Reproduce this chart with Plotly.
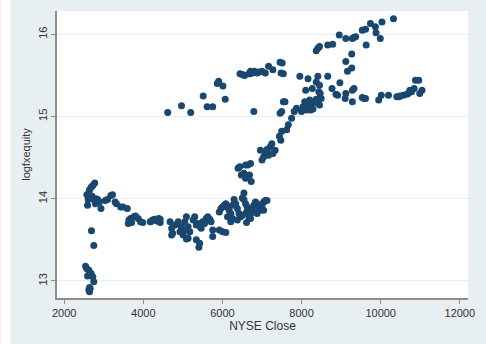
import plotly.graph_objects as go

# NYSE close vs. log of foreign equity holdings
nyse_close = [
    # early low readings
    2540, 2573, 2623, 2590, 2681, 2723, 2748, 2640, 2623, 2640, 2656,
    2689, 2748,
    # first jump cluster
    2573, 2623, 2640, 2681, 2723, 2772, 2606, 2656, 2706, 2590, 2748,
    2806, 2822, 2889, 2930, 2789, 2847,
    3038, 3096, 3179, 3221, 3287, 3321, 3429, 3487, 3595, 3636, 3678,
    3620, 3703, 3761, 3802, 3869, 3927, 3985, 4176, 4234, 4284, 4342,
    4425, 4425,
    # flat trough
    4184, 4384, 4676, 4716, 4716, 4800, 4883, 4925, 4965, 5007, 5049,
    5089, 5132, 5174, 5132, 5299, 5339, 5381, 5339, 5423, 5463, 5548,
    5588, 5630, 5712, 5754, 5754, 5921, 6004, 6086, 5405, 5090, 4740,
    4960, 5040, 5260, 5440, 5500, 5680,
    # dense recovery cluster
    5920, 5962, 6003, 6045, 6087, 6128, 6170, 6211, 6253, 6294, 6336,
    6377, 6419, 6460, 6502, 6543, 6585, 6627, 6610, 6668, 6710, 6751,
    6793, 6834, 6876, 6917, 6959, 7000, 7042, 7083, 7125, 6543, 6610,
    6502, 6377, 6253, 6128, 6211, 6710, 6793, 6876, 7042,
    # climb
    6394, 6435, 6477, 6543, 6585, 6643, 6685, 6726, 6585, 6710,
    7000, 7042, 7083, 7125, 7166, 7208, 7249, 7274, 7332, 6959,
    7440, 7474, 7498, 7457, 7498, 7540, 7581, 7623, 7665, 7748, 7814,
    7872,
    # plateau around 8000-8500
    7997, 8038, 8080, 8121, 8163, 8205, 8246, 8288, 8329, 8371, 8412,
    8454, 8105, 8163, 8271, 8371, 8412, 8454, 8470, 8496, 8437, 7956,
    8661, 8090, 8190, 8230,
    # upper branch
    8371, 8412, 8454, 8661, 8786, 8952, 9118, 9284, 9367, 9534, 9617,
    9633, 9741, 9866, 9882, 9990, 10032, 10323, 9320,
    # middle branch
    9118, 9268, 9160, 9268, 8969, 9326, 9284,
    # lower right branch
    8769, 8869, 8911, 9118, 9102, 9284, 9534, 9617, 9949, 10015, 10198,
    10406, 10489, 10572, 10655, 10697, 10738, 10780, 10846, 10879, 10962,
    10987, 11045, 9580, 10460,
    # upper middle band
    4616, 4965, 5198, 5513, 5613, 5754, 5904, 6012, 6070, 6444, 6502,
    6668, 6710, 6751, 6809, 6876, 7000, 7083, 7166, 7274, 7457, 7482,
    7540, 6793, 6693, 6560, 6930, 7510, 5870,
]

logfxequity = [
    13.18, 13.15, 13.13, 13.06, 13.09, 13.05, 12.99, 12.92, 12.89, 12.87, 12.91,
    13.61, 13.43,
    14.05, 14.07, 14.11, 14.14, 14.16, 14.19, 13.99, 14.02, 14.03, 13.92, 13.99,
    14.00, 13.95, 13.96, 13.88, 13.94, 13.99,
    13.98, 13.99, 14.04, 14.05, 13.96, 13.94, 13.90, 13.90, 13.88, 13.74, 13.76,
    13.70, 13.71, 13.78, 13.79, 13.76, 13.72, 13.71, 13.72, 13.74, 13.75, 13.73,
    13.75, 13.71,
    13.72, 13.76, 13.72, 13.64, 13.56, 13.68, 13.72, 13.60, 13.64, 13.56, 13.72,
    13.78, 13.66, 13.60, 13.52, 13.78, 13.68, 13.70, 13.50, 13.46, 13.64, 13.70,
    13.76, 13.78, 13.72, 13.62, 13.54, 13.62, 13.60, 13.59, 13.41, 13.51, 13.58,
    13.66, 13.62, 13.74, 13.66, 13.72, 13.75,
    13.84, 13.88, 13.90, 13.92, 13.94, 13.90, 13.86, 13.82, 13.92, 13.99, 13.94,
    13.88, 13.82, 13.78, 13.80, 13.99, 13.94, 13.90, 13.84, 13.78, 13.82, 13.88,
    13.92, 13.96, 13.94, 13.90, 13.86, 13.92, 13.96, 13.98, 13.98, 14.07, 13.71,
    14.01, 13.74, 13.76, 13.78, 13.72, 13.76, 13.84, 13.82, 13.86,
    14.37, 14.39, 14.29, 14.31, 14.41, 14.41, 14.29, 14.21, 14.25, 14.43,
    14.47, 14.51, 14.57, 14.60, 14.53, 14.63, 14.67, 14.55, 14.59, 14.59,
    14.76, 14.71, 14.82, 15.04, 15.06, 15.18, 15.18, 14.84, 14.90, 14.98, 15.06,
    15.10,
    15.06, 15.12, 15.18, 15.08, 15.14, 15.20, 15.12, 15.09, 15.18, 15.21, 15.16,
    15.14, 15.32, 15.46, 15.34, 15.42, 15.49, 15.38, 15.28, 15.22, 15.30, 15.49,
    15.49, 15.10, 15.16, 15.08,
    15.80, 15.83, 15.85, 15.87, 15.88, 15.99, 15.95, 15.95, 15.97, 16.05, 16.06,
    15.87, 16.13, 16.09, 16.02, 15.95, 16.15, 16.19, 15.96,
    15.67, 15.76, 15.55, 15.59, 15.41, 15.34, 15.32,
    15.34, 15.27, 15.26, 15.28, 15.22, 15.18, 15.23, 15.22, 15.20, 15.26, 15.26,
    15.24, 15.25, 15.26, 15.27, 15.28, 15.32, 15.30, 15.34, 15.44, 15.44,
    15.28, 15.32, 15.22, 15.24,
    15.05, 15.13, 15.05, 15.25, 15.12, 15.12, 15.43, 15.37, 15.21, 15.52, 15.51,
    15.52, 15.55, 15.53, 15.55, 15.53, 15.55, 15.53, 15.61, 15.57, 15.66, 15.53,
    15.52, 15.06, 15.52, 15.50, 15.54, 15.65, 15.40,
]

x_ticks = [2000, 4000, 6000, 8000, 10000, 12000]
y_ticks = [13, 14, 15, 16]

NAVY = "#1a476f"
REGION = "#e8eff2"
AXIS = "#8c8c8c"

fig = go.Figure(
    go.Scatter(
        x=nyse_close,
        y=logfxequity,
        mode="markers",
        marker=dict(color=NAVY, size=7, line=dict(width=0)),
        hoverinfo="x+y",
    )
)

W, H = 486, 344
ml, mr, mt, mb = 57, 12, 11, 46
pw, ph = W - ml - mr, H - mt - mb

fig.update_layout(
    width=W,
    height=H,
    margin=dict(l=ml, r=mr, t=mt, b=mb, pad=0),
    paper_bgcolor=REGION,
    plot_bgcolor="white",
    showlegend=False,
    font=dict(family="Liberation Sans, Arial, sans-serif", size=11, color="#333333"),
    # narrow white strip along the left edge of the page
    shapes=[
        dict(
            type="rect", xref="paper", yref="paper",
            x0=-ml / pw, x1=-(ml - 10) / pw,
            y0=-mb / ph, y1=1 + mt / ph,
            fillcolor="white", line=dict(width=0), layer="below",
        )
    ],
)

fig.update_xaxes(
    range=[1818, 12207],
    tickvals=x_ticks,
    ticktext=[str(v) for v in x_ticks],
    ticks="outside", ticklen=4, tickwidth=1, tickcolor=AXIS,
    showline=True, linecolor=AXIS, linewidth=1.5,
    showgrid=False, zeroline=False,
    title=dict(text="NYSE Close", font=dict(size=12, color="#333333"), standoff=2),
    tickfont=dict(size=11, color="#333333"),
)

fig.update_yaxes(
    range=[12.793, 16.283],
    tickvals=y_ticks,
    ticktext=[str(v) for v in y_ticks],
    tickangle=-90,
    ticks="outside", ticklen=4, tickwidth=1, tickcolor=AXIS,
    showline=True, linecolor=AXIS, linewidth=1.5,
    showgrid=True, gridcolor="#e6eff1", gridwidth=1,
    zeroline=False,
    title=dict(text="logfxequity", font=dict(size=11, color="#333333"), standoff=4),
    tickfont=dict(size=11, color="#333333"),
)

fig.write_html("out.html")
